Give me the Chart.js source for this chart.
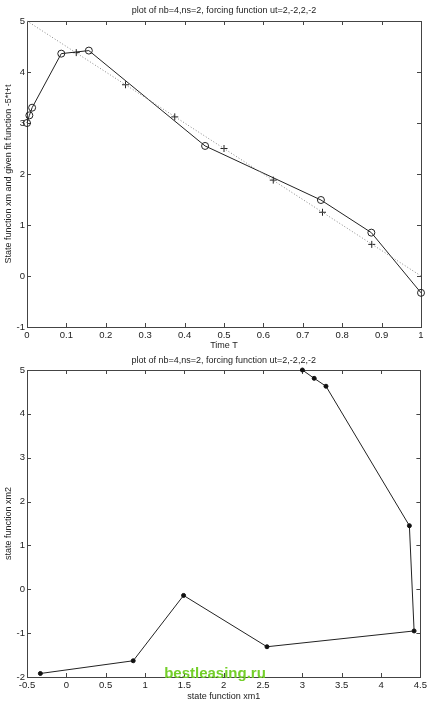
<!DOCTYPE html>
<html>
<head>
<meta charset="utf-8">
<script src="https://cdn.jsdelivr.net/npm/chart.js@4/dist/chart.umd.min.js"></script>
<style>
  body { margin: 0; background: #fff; }
  #wrap { position: relative; width: 430px; height: 703px; }
  canvas { position: absolute; left: 0; }
  #c1 { top: 0; }
  #c2 { top: 352px; }
  #mark {
    position: absolute; left: 0; width: 430px; top: 664px; text-align: center;
    font: bold 15px "Liberation Sans", Arial, sans-serif; color: #74cf2a;
  }
</style>
</head>
<body>
<div id="wrap">
  <canvas id="c1" width="430" height="352"></canvas>
  <canvas id="c2" width="430" height="351"></canvas>
  <div id="mark">bestleasing.ru</div>
</div>
<script>
const titleText = "plot of nb=4,ns=2, forcing function ut=2,-2,2,-2";

// state function samples (time T, xm1, xm2)
const timeT = [0, 0.006, 0.013, 0.087, 0.157, 0.452, 0.746, 0.874, 1.0];
const xm1 = [3.0, 3.15, 3.3, 4.36, 4.42, 2.55, 1.49, 0.85, -0.33];
const xm2 = [5.0, 4.81, 4.63, 1.45, -0.95, -1.31, -0.14, -1.63, -1.92];

// given fit function, line and its '+' samples
const fitT = [0, 1];
const fitY = [5, 0];
const plusT = [0.125, 0.25, 0.375, 0.5, 0.625, 0.75, 0.875];
const plusY = [4.38, 3.75, 3.12, 2.5, 1.88, 1.25, 0.62];

const FONT = "'Liberation Sans', Arial, sans-serif";
const INK = "#222";

const pts = (xs, ys) => xs.map((x, i) => ({ x: x, y: ys[i] }));
const fmt = v => String(+(+v).toFixed(2));

// MATLAB style frame: box, inward ticks on all sides, title over the plot area
const matlabBox = {
  id: "matlabBox",
  beforeDatasetsDraw(chart, args, opts) {
    const { ctx, chartArea: a, scales: { x, y } } = chart;
    const len = 4;
    ctx.save();
    ctx.strokeStyle = "#444";
    ctx.lineWidth = 1;
    ctx.strokeRect(Math.round(a.left) + 0.5, Math.round(a.top) + 0.5,
      Math.round(a.right - a.left), Math.round(a.bottom - a.top));
    ctx.beginPath();
    x.ticks.forEach(t => {
      const px = Math.round(x.getPixelForValue(t.value)) + 0.5;
      ctx.moveTo(px, a.bottom); ctx.lineTo(px, a.bottom - len);
      ctx.moveTo(px, a.top); ctx.lineTo(px, a.top + len);
    });
    y.ticks.forEach(t => {
      const py = Math.round(y.getPixelForValue(t.value)) + 0.5;
      ctx.moveTo(a.left, py); ctx.lineTo(a.left + len, py);
      ctx.moveTo(a.right, py); ctx.lineTo(a.right - len, py);
    });
    ctx.stroke();
    ctx.fillStyle = INK;
    ctx.font = "9px " + FONT;
    ctx.textAlign = "center";
    ctx.textBaseline = "middle";
    ctx.fillText(opts.text, (a.left + a.right) / 2, opts.y);
    ctx.restore();
  }
};

function axes(xMin, xMax, xStep, yMin, yMax, xTitle, yTitle, xHeight) {
  return {
    x: {
      type: "linear", min: xMin, max: xMax,
      grid: { display: false, drawTicks: false }, border: { display: false },
      ticks: { stepSize: xStep, padding: 3, color: INK, font: { family: FONT, size: 9.5 }, callback: fmt },
      title: { display: true, text: xTitle, color: INK, font: { family: FONT, size: 9 }, padding: { top: 0, bottom: 1 } },
      afterFit: s => { s.height = xHeight; }
    },
    y: {
      type: "linear", min: yMin, max: yMax,
      grid: { display: false, drawTicks: false }, border: { display: false },
      ticks: { stepSize: 1, padding: 2, color: INK, font: { family: FONT, size: 9.5 }, callback: fmt },
      title: { display: true, text: yTitle, color: INK, font: { family: FONT, size: 9 }, padding: { top: 3, bottom: 0 } },
      afterFit: s => { s.width = 27; }
    }
  };
}

new Chart(document.getElementById("c1"), {
  type: "scatter",
  data: {
    datasets: [
      {
        data: pts(fitT, fitY), showLine: true, borderColor: "#888", borderWidth: 1,
        borderDash: [1, 2], pointRadius: 0, clip: 6
      },
      {
        data: pts(plusT, plusY), showLine: false, pointStyle: "cross", pointRadius: 3.5,
        borderColor: INK, borderWidth: 1, clip: 6
      },
      {
        data: pts(timeT, xm1), showLine: true, borderColor: INK, borderWidth: 1,
        pointStyle: "circle", pointRadius: 3.5, pointBackgroundColor: "rgba(0,0,0,0)",
        pointBorderColor: INK, pointBorderWidth: 1, clip: 6
      }
    ]
  },
  options: {
    responsive: false,
    animation: false,
    layout: { padding: { top: 21, right: 9, left: 0, bottom: 0 } },
    scales: axes(0, 1, 0.1, -1, 5, "Time T", "State function xm and given fit function -5*t+t", 25),
    plugins: {
      legend: { display: false },
      tooltip: { enabled: false },
      matlabBox: { text: titleText, y: 10.5 }
    }
  },
  plugins: [matlabBox]
});

new Chart(document.getElementById("c2"), {
  type: "scatter",
  data: {
    datasets: [
      {
        data: pts(xm1, xm2), showLine: true, borderColor: INK, borderWidth: 1,
        pointStyle: "circle", pointRadius: 2, pointBackgroundColor: "#111",
        pointBorderColor: "#111", pointBorderWidth: 1, clip: 6
      }
    ]
  },
  options: {
    responsive: false,
    animation: false,
    layout: { padding: { top: 18, right: 9, left: 0, bottom: 0 } },
    scales: axes(-0.5, 4.5, 0.5, -2, 5, "state function xm1", "state function xm2", 26),
    plugins: {
      legend: { display: false },
      tooltip: { enabled: false },
      matlabBox: { text: titleText, y: 8.7 }
    }
  },
  plugins: [matlabBox]
});
</script>
</body>
</html>
